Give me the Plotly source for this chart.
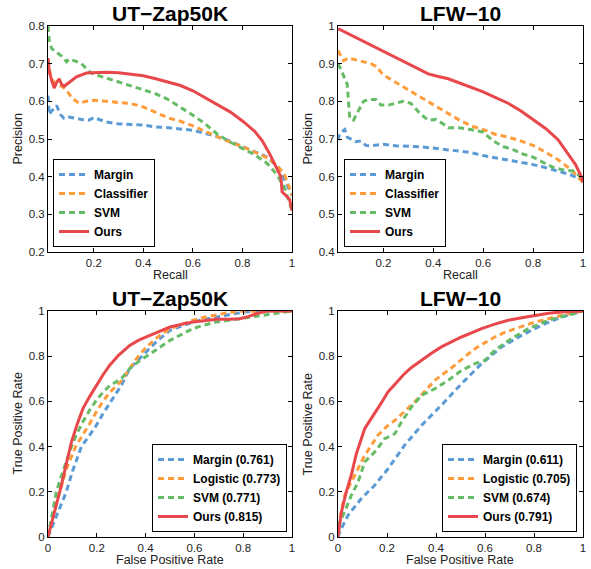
import plotly.graph_objects as go

# ---- UT-Zap50K precision / recall ----
zap_pr_margin_r = [0.015, 0.02, 0.03, 0.04, 0.05, 0.065, 0.08, 0.1, 0.15, 0.18, 0.2, 0.25, 0.3, 0.35, 0.4, 0.45,
                   0.5, 0.6, 0.68, 0.74, 0.8, 0.85, 0.9, 0.95, 0.98, 1.0]
zap_pr_margin_p = [0.615, 0.565, 0.575, 0.58, 0.589, 0.565, 0.555, 0.558, 0.552, 0.55, 0.557, 0.545, 0.54, 0.538,
                   0.537, 0.532, 0.53, 0.523, 0.51, 0.497, 0.48, 0.465, 0.452, 0.42, 0.38, 0.35]
zap_pr_clf_r = [0.015, 0.025, 0.035, 0.05, 0.07, 0.09, 0.11, 0.14, 0.17, 0.2, 0.25, 0.3, 0.35, 0.4, 0.45, 0.5,
                0.55, 0.6, 0.65, 0.7, 0.75, 0.8, 0.85, 0.9, 0.94, 0.97, 0.99, 1.0]
zap_pr_clf_p = [0.71, 0.67, 0.655, 0.645, 0.64, 0.63, 0.61, 0.595, 0.6, 0.603, 0.6, 0.598, 0.594, 0.585, 0.57,
                0.556, 0.547, 0.535, 0.52, 0.505, 0.492, 0.48, 0.465, 0.45, 0.43, 0.405, 0.37, 0.35]
zap_pr_svm_r = [0.015, 0.02, 0.03, 0.05, 0.07, 0.09, 0.1, 0.12, 0.15, 0.18, 0.2, 0.25, 0.3, 0.35, 0.4, 0.45, 0.5,
                0.55, 0.6, 0.65, 0.7, 0.75, 0.8, 0.85, 0.9, 0.94, 0.97, 0.99, 1.0]
zap_pr_svm_p = [0.8, 0.76, 0.74, 0.73, 0.72, 0.705, 0.712, 0.708, 0.7, 0.68, 0.672, 0.662, 0.652, 0.642, 0.632,
                0.62, 0.605, 0.585, 0.563, 0.54, 0.512, 0.492, 0.475, 0.458, 0.435, 0.405, 0.37, 0.33, 0.31]
zap_pr_ours_r = [0.015, 0.02, 0.03, 0.04, 0.05, 0.06, 0.07, 0.08, 0.1, 0.13, 0.17, 0.2, 0.25, 0.3, 0.35, 0.4,
                 0.45, 0.5, 0.55, 0.6, 0.65, 0.7, 0.75, 0.8, 0.85, 0.88, 0.91, 0.94, 0.955, 0.96, 0.975, 0.99, 1.0]
zap_pr_ours_p = [0.715, 0.68, 0.655, 0.635, 0.65, 0.66, 0.645, 0.64, 0.65, 0.665, 0.675, 0.676, 0.677, 0.676,
                 0.673, 0.668, 0.66, 0.652, 0.642, 0.628, 0.61, 0.592, 0.572, 0.548, 0.52, 0.495, 0.46, 0.42, 0.4,
                 0.36, 0.35, 0.34, 0.31]

# ---- LFW-10 precision / recall ----
lfw_pr_margin_r = [0.018, 0.025, 0.035, 0.045, 0.055, 0.07, 0.09, 0.11, 0.13, 0.15, 0.2, 0.25, 0.3, 0.35, 0.4,
                   0.45, 0.5, 0.55, 0.6, 0.65, 0.7, 0.75, 0.8, 0.85, 0.9, 0.95, 1.0]
lfw_pr_margin_p = [0.697, 0.715, 0.72, 0.725, 0.705, 0.7, 0.693, 0.695, 0.683, 0.682, 0.686, 0.682, 0.681, 0.679,
                   0.676, 0.672, 0.668, 0.664, 0.656, 0.65, 0.645, 0.638, 0.632, 0.624, 0.615, 0.605, 0.59]
lfw_pr_clf_r = [0.018, 0.03, 0.04, 0.06, 0.1, 0.15, 0.17, 0.2, 0.25, 0.3, 0.35, 0.4, 0.45, 0.5, 0.55, 0.6, 0.65,
                0.7, 0.75, 0.8, 0.85, 0.9, 0.95, 0.98, 1.0]
lfw_pr_clf_p = [0.935, 0.92, 0.908, 0.915, 0.908, 0.9, 0.893, 0.87, 0.85, 0.83, 0.81, 0.79, 0.772, 0.752, 0.735,
                0.725, 0.712, 0.705, 0.695, 0.683, 0.665, 0.645, 0.62, 0.6, 0.585]
lfw_pr_svm_r = [0.018, 0.03, 0.045, 0.055, 0.06, 0.065, 0.08, 0.1, 0.12, 0.14, 0.17, 0.19, 0.22, 0.25, 0.28,
                0.31, 0.35, 0.38, 0.41, 0.44, 0.46, 0.5, 0.55, 0.6, 0.64, 0.68, 0.72, 0.76, 0.8, 0.84, 0.88,
                0.92, 0.96, 0.99, 1.0]
lfw_pr_svm_p = [0.9, 0.885, 0.86, 0.845, 0.8, 0.755, 0.75, 0.775, 0.8, 0.805, 0.805, 0.79, 0.79, 0.795, 0.8,
                0.795, 0.765, 0.75, 0.752, 0.74, 0.73, 0.73, 0.725, 0.718, 0.695, 0.68, 0.672, 0.66, 0.652, 0.638,
                0.625, 0.618, 0.615, 0.6, 0.585]
lfw_pr_ours_r = [0.018, 0.2, 0.38, 0.42, 0.46, 0.5, 0.55, 0.6, 0.65, 0.7, 0.75, 0.8, 0.85, 0.9, 0.94, 0.97,
                 0.99, 1.0]
lfw_pr_ours_p = [0.993, 0.933, 0.873, 0.866, 0.86, 0.85, 0.838, 0.825, 0.81, 0.795, 0.775, 0.752, 0.728, 0.698,
                 0.66, 0.632, 0.605, 0.585]

# ---- UT-Zap50K ROC ----
zap_roc_margin_f = [0, 0.03, 0.075, 0.1, 0.137, 0.17, 0.198, 0.225, 0.253, 0.3, 0.335, 0.37, 0.403, 0.45, 0.5,
                    0.55, 0.594, 0.64, 0.69, 0.74, 0.8, 0.86, 1.0]
zap_roc_margin_t = [0, 0.08, 0.2, 0.29, 0.4, 0.45, 0.494, 0.545, 0.59, 0.67, 0.745, 0.785, 0.82, 0.87, 0.914,
                    0.935, 0.951, 0.963, 0.973, 0.985, 0.995, 1.0, 1.0]
zap_roc_logit_f = [0, 0.02, 0.048, 0.075, 0.113, 0.143, 0.17, 0.198, 0.225, 0.253, 0.3, 0.335, 0.37, 0.403,
                   0.45, 0.5, 0.55, 0.594, 0.64, 0.69, 0.74, 0.786, 0.85, 1.0]
zap_roc_logit_t = [0, 0.1, 0.2, 0.3, 0.4, 0.45, 0.5, 0.553, 0.6, 0.64, 0.69, 0.745, 0.8, 0.84, 0.885, 0.922,
                   0.943, 0.959, 0.972, 0.984, 0.993, 0.999, 1.0, 1.0]
zap_roc_svm_f = [0, 0.02, 0.034, 0.061, 0.096, 0.12, 0.143, 0.17, 0.198, 0.225, 0.253, 0.3, 0.335, 0.37, 0.403,
                 0.45, 0.5, 0.55, 0.594, 0.64, 0.69, 0.786, 0.895, 1.0]
zap_roc_svm_t = [0, 0.11, 0.2, 0.29, 0.4, 0.46, 0.51, 0.56, 0.605, 0.64, 0.67, 0.7, 0.745, 0.775, 0.8, 0.835,
                 0.87, 0.898, 0.922, 0.938, 0.951, 0.966, 0.984, 1.0]
zap_roc_ours_f = [0, 0.02, 0.034, 0.055, 0.075, 0.096, 0.12, 0.143, 0.17, 0.198, 0.225, 0.253, 0.29, 0.335,
                  0.37, 0.403, 0.45, 0.5, 0.55, 0.594, 0.64, 0.69, 0.74, 0.786, 0.82, 0.86, 0.9, 1.0]
zap_roc_ours_t = [0, 0.08, 0.14, 0.229, 0.324, 0.42, 0.5, 0.568, 0.62, 0.671, 0.717, 0.76, 0.805, 0.848, 0.87,
                  0.885, 0.907, 0.929, 0.942, 0.951, 0.957, 0.963, 0.963, 0.966, 0.975, 0.99, 1.0, 1.0]

# ---- LFW-10 ROC ----
lfw_roc_margin_f = [0, 0.007, 0.041, 0.095, 0.15, 0.204, 0.272, 0.341, 0.422, 0.504, 0.586, 0.668, 0.749,
                    0.831, 0.913, 1.0]
lfw_roc_margin_t = [0, 0.022, 0.096, 0.17, 0.229, 0.302, 0.406, 0.494, 0.583, 0.678, 0.767, 0.841, 0.892,
                    0.937, 0.973, 1.0]
lfw_roc_logit_f = [0, 0.007, 0.027, 0.061, 0.109, 0.163, 0.2, 0.232, 0.27, 0.313, 0.35, 0.395, 0.44, 0.477,
                   0.52, 0.559, 0.6, 0.64, 0.68, 0.722, 0.76, 0.804, 0.86, 0.913, 1.0]
lfw_roc_logit_t = [0, 0.081, 0.184, 0.258, 0.361, 0.45, 0.49, 0.516, 0.555, 0.597, 0.64, 0.693, 0.73, 0.76,
                   0.8, 0.833, 0.86, 0.885, 0.905, 0.922, 0.935, 0.951, 0.968, 0.981, 1.0]
lfw_roc_svm_f = [0, 0.007, 0.027, 0.054, 0.082, 0.109, 0.15, 0.191, 0.232, 0.259, 0.3, 0.341, 0.395, 0.45,
                 0.504, 0.559, 0.6, 0.64, 0.708, 0.777, 0.858, 0.94, 1.0]
lfw_roc_svm_t = [0, 0.066, 0.111, 0.184, 0.243, 0.332, 0.376, 0.435, 0.457, 0.509, 0.575, 0.627, 0.656, 0.693,
                 0.737, 0.767, 0.782, 0.826, 0.878, 0.922, 0.959, 0.981, 1.0]
lfw_roc_ours_f = [0, 0.014, 0.034, 0.054, 0.075, 0.09, 0.109, 0.13, 0.15, 0.175, 0.204, 0.24, 0.272, 0.3, 0.341,
                  0.38, 0.422, 0.46, 0.504, 0.55, 0.586, 0.64, 0.695, 0.75, 0.804, 0.86, 0.913, 1.0]
lfw_roc_ours_t = [0, 0.111, 0.2, 0.273, 0.369, 0.42, 0.479, 0.515, 0.546, 0.59, 0.642, 0.685, 0.723, 0.75,
                  0.782, 0.812, 0.841, 0.862, 0.885, 0.905, 0.922, 0.942, 0.959, 0.97, 0.981, 0.99, 0.996, 1.0]

pr_names = ["Margin", "Classifier", "SVM", "Ours"]
zap_roc_names = ["Margin (0.761)", "Logistic (0.773)", "SVM (0.771)", "Ours (0.815)"]
lfw_roc_names = ["Margin (0.611)", "Logistic (0.705)", "SVM (0.674)", "Ours (0.791)"]
titles = ["UT\u2212Zap50K", "LFW\u221210", "UT\u2212Zap50K", "LFW\u221210"]

colors = ["#5b9bd5", "#ff9c3c", "#66bb66", "#e8474b"]
FONT = "Liberation Sans, Arial, Helvetica, sans-serif"
W, H = 591, 569

# plot area boxes in pixels: left, right, top, bottom
boxes = [(48, 292, 26, 252), (338, 583, 26, 252), (48, 292, 311, 537), (338, 583, 311, 537)]

panels = [
    ([zap_pr_margin_r, zap_pr_clf_r, zap_pr_svm_r, zap_pr_ours_r],
     [zap_pr_margin_p, zap_pr_clf_p, zap_pr_svm_p, zap_pr_ours_p], pr_names),
    ([lfw_pr_margin_r, lfw_pr_clf_r, lfw_pr_svm_r, lfw_pr_ours_r],
     [lfw_pr_margin_p, lfw_pr_clf_p, lfw_pr_svm_p, lfw_pr_ours_p], pr_names),
    ([zap_roc_margin_f, zap_roc_logit_f, zap_roc_svm_f, zap_roc_ours_f],
     [zap_roc_margin_t, zap_roc_logit_t, zap_roc_svm_t, zap_roc_ours_t], zap_roc_names),
    ([lfw_roc_margin_f, lfw_roc_logit_f, lfw_roc_svm_f, lfw_roc_ours_f],
     [lfw_roc_margin_t, lfw_roc_logit_t, lfw_roc_svm_t, lfw_roc_ours_t], lfw_roc_names),
]
x_ranges = [[0.015, 1], [0.018, 1], [0, 1], [0, 1]]
y_ranges = [[0.2, 0.8], [0.4, 1.0], [0, 1], [0, 1]]
y_dticks = [0.1, 0.1, 0.2, 0.2]
x_titles = ["Recall", "Recall", "False Positive Rate", "False Positive Rate"]
y_titles = ["Precision", "Precision", "True Positive Rate", "True Positive Rate"]
legend_boxes = [(53, 247), (344, 247), (152, 532), (442, 532)]  # left, bottom in px

fig = go.Figure()
layout = dict(width=W, height=H, margin=dict(l=0, r=0, t=0, b=0, autoexpand=False),
              paper_bgcolor="white", plot_bgcolor="white",
              font=dict(family=FONT, size=11.5, color="#222"), annotations=[])

for i, (xs, ys, names) in enumerate(panels):
    k = "" if i == 0 else str(i + 1)
    leg = "legend" + k
    for j in range(4):
        dash = "solid" if j == 3 else "6px,4px"
        fig.add_trace(go.Scatter(x=xs[j], y=ys[j], name=names[j], mode="lines",
                                 line=dict(color=colors[j], width=3, dash=dash),
                                 xaxis="x" + k, yaxis="y" + k, legend=leg))
    l, r, t, b = boxes[i]
    ax = dict(showgrid=False, zeroline=False, showline=True, linecolor="black", linewidth=1,
              mirror="allticks", ticks="inside", ticklen=4, tickcolor="black", automargin=False,
              tickfont=dict(family=FONT, size=11.5, color="#222"))
    layout["xaxis" + k] = dict(ax, domain=[l / W, r / W], range=x_ranges[i], dtick=0.2, tick0=0,
                               anchor="y" + k)
    layout["yaxis" + k] = dict(ax, domain=[1 - b / H, 1 - t / H], range=y_ranges[i], dtick=y_dticks[i],
                               tick0=0, anchor="x" + k)
    lx, lb = legend_boxes[i]
    layout[leg] = dict(x=lx / W, y=1 - lb / H, xanchor="left", yanchor="bottom",
                       bgcolor="white", bordercolor="black", borderwidth=1,
                       font=dict(family=FONT, size=12, color="black", weight="bold"),
                       tracegroupgap=0)
    # panel title and axis labels
    layout["annotations"] += [
        dict(text=titles[i], x=(l + r) / 2 / W, y=1 - (t - 12.5) / H, xref="paper", yref="paper",
             showarrow=False, font=dict(family=FONT, size=21, color="black", weight="bold"),
             xanchor="center", yanchor="middle"),
        dict(text=x_titles[i], x=(l + r) / 2 / W, y=1 - (b + 23) / H, xref="paper", yref="paper",
             showarrow=False, font=dict(family=FONT, size=12.5, color="#222"),
             xanchor="center", yanchor="middle"),
        dict(text=y_titles[i], x=(l - 30.5) / W, y=1 - (t + b) / 2 / H, xref="paper", yref="paper",
             showarrow=False, textangle=-90, font=dict(family=FONT, size=12.5, color="#222"),
             xanchor="center", yanchor="middle"),
    ]

fig.update_layout(**layout)
# the page body has a default margin; drop it so the figure sits at the window's corner
fig.write_html("out.html", config={"displayModeBar": False},
               post_script="document.body.style.margin='0';")
